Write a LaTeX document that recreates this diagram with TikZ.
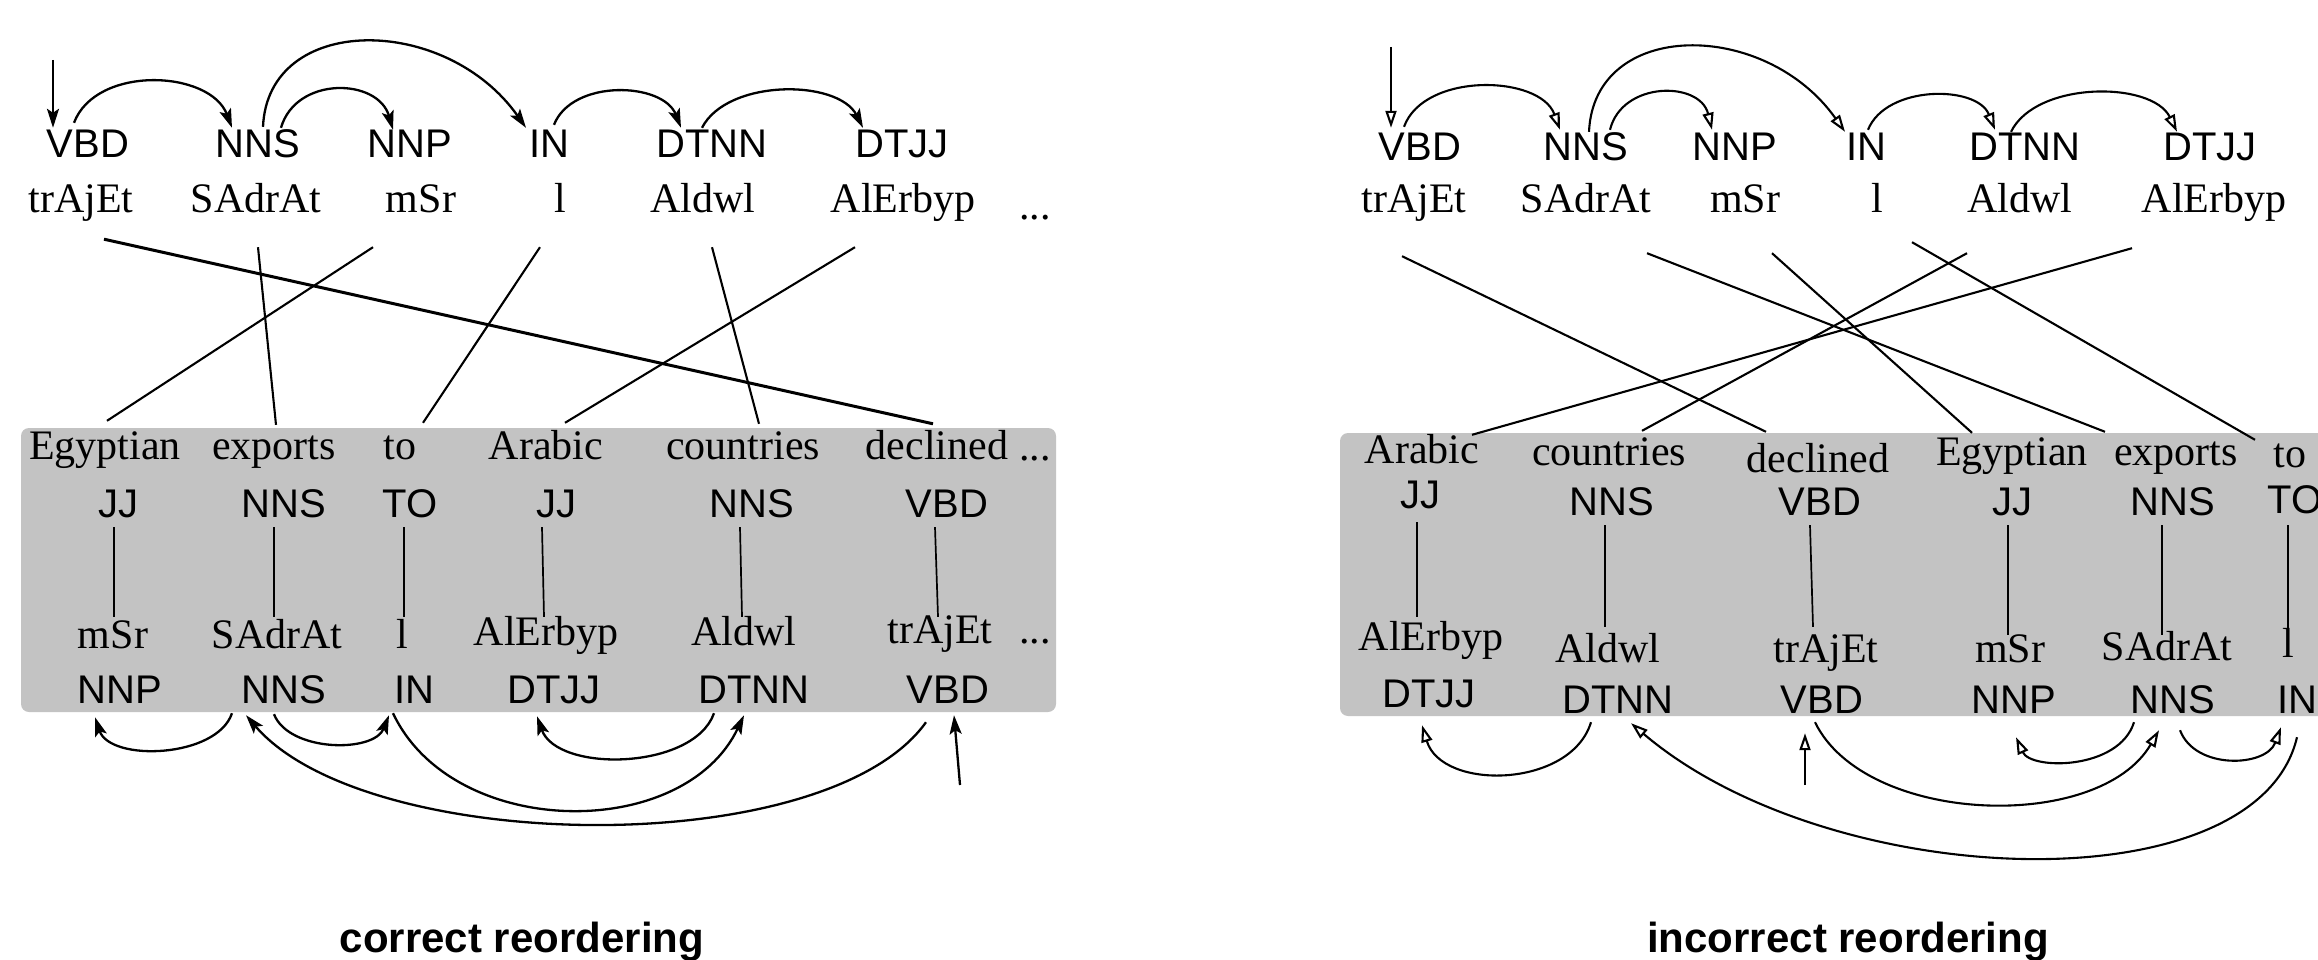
\documentclass[tikz,border=0pt]{standalone}
\usepackage{fontspec}
\setmainfont{Liberation Serif}
\setsansfont{Liberation Sans}
\usetikzlibrary{arrows.meta}
\definecolor{boxgray}{RGB}{195,195,195}
\begin{document}
\begin{tikzpicture}[x=1pt,y=-1pt,
  tag/.style={font=\fontsize{40}{44}\selectfont\sffamily, anchor=base, inner sep=0pt, text height=29pt, text depth=0pt},
  wrd/.style={font=\fontsize{42}{46}\selectfont\rmfamily, anchor=base, inner sep=0pt, text height=29pt, text depth=9pt},
  capt/.style={font=\fontsize{42}{46}\selectfont\sffamily\bfseries, anchor=base, inner sep=0pt},
  farc/.style={line width=2.3pt, -{Stealth[length=19pt,width=12pt,inset=4pt]}},
  oarc/.style={line width=2.1pt, -{Triangle[open,length=17pt,width=11pt]}},
  aln/.style={line width=2.1pt},
  tkln/.style={line width=3pt},
  vln/.style={line width=1.7pt},
  gbox/.style={fill=boxgray, rounded corners=8pt}
]
\clip (0,0) rectangle (2318,960);
% boxes
\fill[gbox] (21,428) rectangle (1056,712);
\fill[gbox] (1340,433) rectangle (2340,716);

% ---------------- left panel ----------------
\node[tag] (lt1) at (88,158) {VBD};
\node[tag] (lt2) at (258,158) {NNS};
\node[tag] (lt3) at (410,158) {NNP};
\node[tag] (lt4) at (549,158) {IN};
\node[tag] (lt5) at (712,158) {DTNN};
\node[tag] (lt6) at (902,158) {DTJJ};
\node[wrd] (lw1) at (81,212) {trAjEt};
\node[wrd] (lw2) at (256,212) {SAdrAt};
\node[wrd] (lw3) at (421,212) {mSr};
\node[wrd] (lw4) at (560,212) {l};
\node[wrd] (lw5) at (703,212) {Aldwl};
\node[wrd] (lw6) at (903,212) {AlErbyp};
\node[wrd] (ldots1) at (1035,220) {...};

\node[wrd] (lbw1) at (105,459) {Egyptian};
\node[wrd] (lbw2) at (274,459) {exports};
\node[wrd] (lbw3) at (400,459) {to};
\node[wrd] (lbw4) at (546,459) {Arabic};
\node[wrd] (lbw5) at (743,459) {countries};
\node[wrd] (lbw6) at (937,459) {declined};
\node[wrd] (ldots2) at (1035,460) {...};
\node[tag] (lbt1) at (118,517) {JJ};
\node[tag] (lbt2) at (284,517) {NNS};
\node[tag] (lbt3) at (410,517) {TO};
\node[tag] (lbt4) at (556,517) {JJ};
\node[tag] (lbt5) at (752,517) {NNS};
\node[tag] (lbt6) at (947,517) {VBD};
\node[wrd] (lbb1) at (113,648) {mSr};
\node[wrd] (lbb2) at (277,648) {SAdrAt};
\node[wrd] (lbb3) at (402,648) {l};
\node[wrd] (lbb4) at (546,645) {AlErbyp};
\node[wrd] (lbb5) at (744,645) {Aldwl};
\node[wrd] (lbb6) at (940,643) {trAjEt};
\node[wrd] (ldots3) at (1035,643) {...};
\node[tag] (lbbt1) at (120,703) {NNP};
\node[tag] (lbbt2) at (284,703) {NNS};
\node[tag] (lbbt3) at (414,703) {IN};
\node[tag] (lbbt4) at (554,703) {DTJJ};
\node[tag] (lbbt5) at (754,703) {DTNN};
\node[tag] (lbbt6) at (948,703) {VBD};

\coordinate (lroot) at (53,60);
\coordinate (lroot2) at (960,785);

% top arcs left
\draw[farc] (lroot) -- ([xshift=-35pt,yshift=1pt]lt1.north);
\draw[farc] ([xshift=-14pt,yshift=6pt]lt1.north) .. controls +(22,-58) and +(-22,-58) .. ([xshift=-26pt,yshift=1pt]lt2.north);
\draw[farc] ([xshift=5pt,yshift=2pt]lt2.north) .. controls +(5,-114) and +(-80,-114) .. ([xshift=-23pt,yshift=1pt]lt4.north);
\draw[farc] ([xshift=23pt,yshift=1pt]lt2.north) .. controls +(15,-52) and +(-15,-52) .. ([xshift=-17pt,yshift=-1pt]lt3.north);
\draw[farc] ([xshift=5pt,yshift=4pt]lt4.north) .. controls +(18,-46) and +(-18,-46) .. ([xshift=-31pt,yshift=1pt]lt5.north);
\draw[farc] ([xshift=-10pt,yshift=1pt]lt5.north) .. controls +(25,-49) and +(-25,-49) .. ([xshift=-39pt,yshift=1pt]lt6.north);

% alignment lines left
\draw[tkln] ([xshift=23pt,yshift=-18pt]lw1.south) -- ([xshift=-4pt,yshift=6pt]lbw6.north);
\draw[aln] ([xshift=2pt,yshift=-26pt]lw2.south) -- ([xshift=2pt,yshift=5pt]lbw2.north);
\draw[aln] ([xshift=-48pt,yshift=-26pt]lw3.south) -- ([xshift=2pt,yshift=9pt]lbw1.north);
\draw[aln] ([xshift=-20pt,yshift=-26pt]lw4.south) -- ([xshift=23pt,yshift=7pt]lbw3.north);
\draw[aln] ([xshift=9pt,yshift=-26pt]lw5.south) -- ([xshift=16pt,yshift=6pt]lbw5.north);
\draw[aln] ([xshift=-48pt,yshift=-26pt]lw6.south) -- ([xshift=19pt,yshift=7pt]lbw4.north);

% vertical lines left
\draw[vln] ([xshift=-4pt,yshift=-10pt]lbt1.south) -- ([xshift=1pt,yshift=2pt]lbb1.north);
\draw[vln] ([xshift=-10pt,yshift=-10pt]lbt2.south) -- ([xshift=-3pt,yshift=2pt]lbb2.north);
\draw[vln] ([xshift=-6pt,yshift=-10pt]lbt3.south) -- ([xshift=2pt,yshift=2pt]lbb3.north);
\draw[vln] ([xshift=-14pt,yshift=-10pt]lbt4.south) -- ([xshift=-2pt,yshift=-1pt]lbb4.north);
\draw[vln] ([xshift=-12pt,yshift=-10pt]lbt5.south) -- ([xshift=-2pt,yshift=-1pt]lbb5.north);
\draw[vln] ([xshift=-12pt,yshift=-10pt]lbt6.south) -- ([xshift=-2pt,yshift=-3pt]lbb6.north);

% bottom arcs left
\draw[farc] ([xshift=-52pt,yshift=-10pt]lbbt2.south) .. controls +(-15,45) and +(15,45) .. ([xshift=-25pt,yshift=-14pt]lbbt1.south);
\draw[farc] ([xshift=-10pt,yshift=-11pt]lbbt2.south) .. controls +(15,38) and +(-15,38) .. ([xshift=-25pt,yshift=-12pt]lbbt3.south);
\draw[farc] ([xshift=-22pt,yshift=-19pt]lbbt6.south) .. controls +(-100,140) and +(120,140) .. ([xshift=-38pt,yshift=-12pt]lbbt2.south);
\draw[farc] ([xshift=-21pt,yshift=-10pt]lbbt3.south) .. controls +(60,127) and +(-60,127) .. ([xshift=-10pt,yshift=-12pt]lbbt5.south);
\draw[farc] ([xshift=-40pt,yshift=-10pt]lbbt5.south) .. controls +(-20,57) and +(20,57) .. ([xshift=-17pt,yshift=-13pt]lbbt4.south);
\draw[farc] (lroot2) -- ([xshift=6pt,yshift=-12pt]lbbt6.south);

% ---------------- right panel ----------------
\node[tag] (rt1) at (1420,161) {VBD};
\node[tag] (rt2) at (1586,161) {NNS};
\node[tag] (rt3) at (1735,161) {NNP};
\node[tag] (rt4) at (1866,161) {IN};
\node[tag] (rt5) at (2025,161) {DTNN};
\node[tag] (rt6) at (2210,161) {DTJJ};
\node[wrd] (rw1) at (1414,213) {trAjEt};
\node[wrd] (rw2) at (1586,213) {SAdrAt};
\node[wrd] (rw3) at (1745,213) {mSr};
\node[wrd] (rw4) at (1877,213) {l};
\node[wrd] (rw5) at (2020,213) {Aldwl};
\node[wrd] (rw6) at (2214,213) {AlErbyp};

\node[wrd] (rbw1) at (1422,463) {Arabic};
\node[wrd] (rbw2) at (1609,465) {countries};
\node[wrd] (rbw3) at (1818,472) {declined};
\node[wrd] (rbw4) at (2012,465) {Egyptian};
\node[wrd] (rbw5) at (2176,465) {exports};
\node[wrd] (rbw6) at (2290,467) {to};
\node[tag] (rbt1) at (1420,508) {JJ};
\node[tag] (rbt2) at (1612,515) {NNS};
\node[tag] (rbt3) at (1820,515) {VBD};
\node[tag] (rbt4) at (2012,515) {JJ};
\node[tag] (rbt5) at (2173,515) {NNS};
\node[tag] (rbt6) at (2295,513) {TO};
\node[wrd] (rbb1) at (1431,650) {AlErbyp};
\node[wrd] (rbb2) at (1608,662) {Aldwl};
\node[wrd] (rbb3) at (1826,662) {trAjEt};
\node[wrd] (rbb4) at (2010,662) {mSr};
\node[wrd] (rbb5) at (2167,660) {SAdrAt};
\node[wrd] (rbb6) at (2288,657) {l};
\node[tag] (rbbt1) at (1429,707) {DTJJ};
\node[tag] (rbbt2) at (1618,713) {DTNN};
\node[tag] (rbbt3) at (1822,713) {VBD};
\node[tag] (rbbt4) at (2014,713) {NNP};
\node[tag] (rbbt5) at (2173,713) {NNS};
\node[tag] (rbbt6) at (2297,713) {IN};

\coordinate (rroot) at (1391,47);
\coordinate (rroot2) at (1805,785);

% top arcs right
\draw[oarc] (rroot) -- ([xshift=-29pt,yshift=4pt]rt1.north);
\draw[oarc] ([xshift=-16pt,yshift=5pt]rt1.north) .. controls +(20,-55) and +(-20,-55) .. ([xshift=-26pt,yshift=2pt]rt2.north);
\draw[oarc] ([xshift=3pt]rt2.north) .. controls +(5,-113) and +(-80,-113) .. ([xshift=-21pt]rt4.north);
\draw[oarc] ([xshift=24pt,yshift=2pt]rt2.north) .. controls +(12,-49) and +(-12,-49) .. ([xshift=-23pt,yshift=2pt]rt3.north);
\draw[oarc] ([xshift=2pt,yshift=2pt]rt4.north) .. controls +(18,-45) and +(-18,-45) .. ([xshift=-30pt,yshift=2pt]rt5.north);
\draw[oarc] ([xshift=-14pt]rt5.north) .. controls +(25,-51) and +(-25,-51) .. ([xshift=-33pt]rt6.north);

% alignment lines right
\draw[aln] ([xshift=-12pt,yshift=-34pt]rw1.south) -- ([xshift=-52pt,yshift=11pt]rbw3.north);
\draw[aln] ([xshift=61pt,yshift=-31pt]rw2.south) -- ([xshift=-71pt,yshift=4pt]rbw5.north);
\draw[aln] ([xshift=27pt,yshift=-31pt]rw3.south) -- ([xshift=-40pt,yshift=3pt]rbw4.north);
\draw[aln] ([xshift=35pt,yshift=-20pt]rw4.south) -- ([xshift=-35pt,yshift=-2pt]rbw6.north);
\draw[aln] ([xshift=-53pt,yshift=-31pt]rw5.south) -- ([xshift=33pt,yshift=5pt]rbw2.north);
\draw[aln] ([xshift=-82pt,yshift=-26pt]rw6.south) -- ([xshift=50pt,yshift=-1pt]rbw1.north);

% vertical lines right
\draw[vln] ([xshift=-3pt,yshift=-14pt]rbt1.south) -- ([xshift=-14pt,yshift=4pt]rbb1.north);
\draw[vln] ([xshift=-7pt,yshift=-10pt]rbt2.south) -- ([xshift=-3pt,yshift=6pt]rbb2.north);
\draw[vln] ([xshift=-10pt,yshift=-10pt]rbt3.south) -- ([xshift=-13pt,yshift=6pt]rbb3.north);
\draw[vln] ([xshift=-4pt,yshift=-10pt]rbt4.south) -- ([xshift=-2pt,yshift=-2pt]rbb4.north);
\draw[vln] ([xshift=-11pt,yshift=-10pt]rbt5.south) -- ([xshift=-5pt,yshift=-4pt]rbb5.north);
\draw[vln] ([xshift=-7pt,yshift=-12pt]rbt6.south) -- ([yshift=-2pt]rbb6.north);

% bottom arcs right
\draw[oarc] ([xshift=-27pt,yshift=-9pt]rbbt2.south) .. controls +(-20,66) and +(20,66) .. ([xshift=-7pt,yshift=-18pt]rbbt1.south);
\draw[oarc] (rroot2) -- ([xshift=-17pt,yshift=-20pt]rbbt3.south);
\draw[oarc] ([xshift=-7pt,yshift=-9pt]rbbt3.south) .. controls +(50,103) and +(-60,103) .. ([xshift=-14pt,yshift=-17pt]rbbt5.south);
\draw[oarc] ([xshift=-39pt,yshift=-9pt]rbbt5.south) .. controls +(-15,48) and +(15,33) .. ([xshift=2pt,yshift=-24pt]rbbt4.south);
\draw[oarc] ([xshift=7pt,yshift=-17pt]rbbt5.south) .. controls +(15,40) and +(-15,40) .. ([xshift=-16pt,yshift=-14pt]rbbt6.south);
\draw[oarc] ([yshift=-24pt]rbbt6.south) .. controls +(-40,170) and +(200,170) .. ([xshift=13pt,yshift=-10pt]rbbt2.south);

% captions
\node[capt] (c1) at (522,952) {correct reordering};
\node[capt] (c2) at (1848,952) {incorrect reordering};
\end{tikzpicture}
\end{document}
